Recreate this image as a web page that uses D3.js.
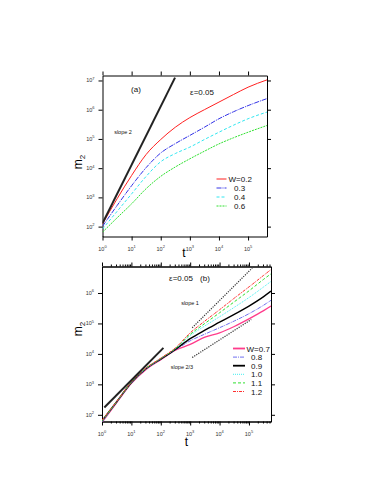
<!DOCTYPE html>
<html>
<head>
<meta charset="utf-8">
<script src="https://cdn.jsdelivr.net/npm/d3@7"></script>
<style>
  body { margin: 0; background: #fff; }
  svg { display: block; font-family: "Liberation Sans", Arial, sans-serif; }
  .tick-label { font-size: 5.5px; fill: #333; }
  .axis-title { font-size: 12px; fill: #000; }
  .note { font-size: 8px; fill: #111; }
  .slope-note { font-size: 5.5px; fill: #111; }
  .legend-text { font-size: 8px; fill: #111; }
  .domain, .tick line { stroke: #000; }
</style>
</head>
<body>
<svg id="chart" width="382" height="494"></svg>
<script>
// ---------- panel (a) data, log10 values

const LOG_T_A = [0, 0.5, 1, 1.5, 2, 2.5, 3, 3.5, 4, 4.5, 5, 5.65];
const LOG_M2_A_W02 = [2.09, 2.95, 3.75, 4.47, 4.98, 5.40, 5.73, 6.0, 6.26, 6.52, 6.77, 7.02];
const LOG_M2_A_W03 = [2.01, 2.72, 3.40, 4.02, 4.52, 4.84, 5.12, 5.40, 5.69, 5.93, 6.14, 6.38];
const LOG_M2_A_W04 = [1.92, 2.52, 3.12, 3.72, 4.22, 4.50, 4.72, 4.98, 5.23, 5.47, 5.69, 5.92];
const LOG_M2_A_W06 = [1.81, 2.30, 2.78, 3.30, 3.72, 4.04, 4.32, 4.58, 4.83, 5.04, 5.23, 5.46];
const LEGEND_A = ["W=0.2", "0.3", "0.4", "0.6"];

const SLOPE2_T = [1, 310];
const SLOPE2_M2 = [130, 1.25e7];

// ---------- panel (b) data

const LOG_T_B = [0, 0.5, 1, 1.5, 2, 2.5, 3, 3.5, 4, 4.5, 5, 5.5, 5.75];
const LOG_M2_B_W07 = [1.75, 2.40, 3.03, 3.49, 3.81, 4.12, 4.31, 4.55, 4.69, 4.90, 5.15, 5.42, 5.57];
const LOG_M2_B_W08 = [1.76, 2.41, 3.04, 3.50, 3.82, 4.13, 4.43, 4.65, 4.86, 5.08, 5.32, 5.60, 5.76];
const LOG_M2_B_W09 = [1.80, 2.43, 3.06, 3.52, 3.83, 4.15, 4.50, 4.78, 5.04, 5.30, 5.57, 5.88, 6.06];
const LOG_M2_B_W10 = [1.78, 2.42, 3.06, 3.52, 3.84, 4.17, 4.60, 4.92, 5.22, 5.53, 5.85, 6.20, 6.38];
const LOG_M2_B_W11 = [1.80, 2.43, 3.07, 3.53, 3.85, 4.18, 4.64, 5.00, 5.35, 5.71, 6.07, 6.45, 6.63];
const LOG_M2_B_W12 = [1.82, 2.44, 3.08, 3.54, 3.86, 4.20, 4.69, 5.08, 5.45, 5.83, 6.20, 6.58, 6.77];
const LEGEND_B = ["W=0.7", "0.8", "0.9", "1.0", "1.1", "1.2"];

const SLOPE1_SOLID_T = [1.2, 123];
const SLOPE1_SOLID_M2 = [174, 15800];
const SLOPE1_DOT_T = [1175, 1.29e5];
const SLOPE1_DOT_M2 = [72400, 6.6e6];
const SLOPE23_DOT_T = [1175, 1.2e5];
const SLOPE23_DOT_M2 = [7600, 1.35e5];

const X_DECADES = [0, 1, 2, 3, 4, 5];
const Y_DECADES_A = [2, 3, 4, 5, 6, 7];
const Y_DECADES_B = [2, 3, 4, 5, 6];

// ----------

function addDecadeLabel(g, x, y, exponent, anchor) {
  let text = g.append("text")
    .attr("class", "tick-label")
    .attr("x", x)
    .attr("y", y)
    .attr("text-anchor", anchor);
  text.append("tspan").text("10");
  text.append("tspan").attr("dy", -2.5).attr("font-size", "4px").text(exponent);
}

function drawPanel(svg, cfg) {
  const x = d3.scaleLog().domain(cfg.xDomain).range([cfg.left, cfg.right]);
  const y = d3.scaleLog().domain(cfg.yDomain).range([cfg.bottom, cfg.top]);
  const g = svg.append("g");

  g.append("clipPath").attr("id", cfg.id + "-clip")
    .append("rect")
    .attr("x", cfg.left).attr("y", cfg.top)
    .attr("width", cfg.right - cfg.left).attr("height", cfg.bottom - cfg.top);

  const xTicks = X_DECADES.map((e) => 10 ** e);
  const yTicks = cfg.yDecades.map((e) => 10 ** e);

  // axes, ticks out on all four sides
  g.append("g").attr("transform", `translate(0,${cfg.bottom})`)
    .call(d3.axisBottom(x).tickValues(xTicks).tickSize(4).tickSizeOuter(0).tickFormat(""));
  g.append("g").attr("transform", `translate(0,${cfg.top})`)
    .call(d3.axisTop(x).tickValues(xTicks).tickSize(4).tickSizeOuter(0).tickFormat(""));
  g.append("g").attr("transform", `translate(${cfg.left},0)`)
    .call(d3.axisLeft(y).tickValues(yTicks).tickSize(4).tickSizeOuter(0).tickFormat(""));
  g.append("g").attr("transform", `translate(${cfg.right},0)`)
    .call(d3.axisRight(y).tickValues(yTicks).tickSize(4).tickSizeOuter(0).tickFormat(""));

  if (cfg.minorTicks) {
    let minor = [];
    X_DECADES.forEach((e) => {
      for (let k = 2; k <= 9; k++) minor.push(k * 10 ** e);
    });
    minor = minor.filter((v) => v <= cfg.xDomain[1]);
    g.append("g").attr("transform", `translate(0,${cfg.bottom})`)
      .call(d3.axisBottom(x).tickValues(minor).tickSize(2).tickSizeOuter(0).tickFormat(""));
    g.append("g").attr("transform", `translate(0,${cfg.top})`)
      .call(d3.axisTop(x).tickValues(minor).tickSize(2).tickSizeOuter(0).tickFormat(""));
  }

  X_DECADES.forEach((e) => addDecadeLabel(g, x(10 ** e), cfg.bottom + 14, e, "middle"));
  cfg.yDecades.forEach((e) => addDecadeLabel(g, cfg.left - 8, y(10 ** e) + 2, e, "end"));

  // axis titles
  g.append("text").attr("class", "axis-title")
    .attr("x", cfg.tLabel[0]).attr("y", cfg.tLabel[1])
    .attr("text-anchor", "middle").text("t");
  let m2 = g.append("text").attr("class", "axis-title")
    .attr("transform", `translate(${cfg.mLabel[0]},${cfg.mLabel[1]}) rotate(-90)`)
    .attr("text-anchor", "middle");
  m2.append("tspan").text("m");
  m2.append("tspan").attr("dy", 2.5).attr("font-size", "8px").text("2");

  const plot = g.append("g").attr("clip-path", `url(#${cfg.id}-clip)`);

  const line = d3.line()
    .x((d) => x(10 ** d[0]))
    .y((d) => y(10 ** d[1]))
    .curve(d3.curveMonotoneX);

  cfg.series.forEach((s) => {
    plot.append("path")
      .datum(cfg.logT.map((t, i) => [t, s.values[i]]))
      .attr("d", line)
      .attr("fill", "none")
      .attr("stroke", s.color)
      .attr("stroke-width", s.width)
      .attr("stroke-dasharray", s.dash);
  });

  const straight = d3.line().x((d) => x(d[0])).y((d) => y(d[1]));
  cfg.guides.forEach((s) => {
    plot.append("path")
      .datum(s.t.map((t, i) => [t, s.m2[i]]))
      .attr("d", straight)
      .attr("fill", "none")
      .attr("stroke", s.color)
      .attr("stroke-width", s.width)
      .attr("stroke-dasharray", s.dash);
  });

  cfg.notes.forEach((n) => {
    g.append("text").attr("class", n.cls)
      .attr("x", n.x).attr("y", n.y)
      .attr("text-anchor", "middle").text(n.text);
  });

  // legend
  cfg.series.forEach((s, i) => {
    const ly = cfg.legend.y + i * cfg.legend.step;
    g.append("line")
      .attr("x1", cfg.legend.x).attr("x2", cfg.legend.x + cfg.legend.len)
      .attr("y1", ly).attr("y2", ly)
      .attr("stroke", s.color)
      .attr("stroke-width", s.legendWidth || s.width)
      .attr("stroke-dasharray", s.dash);
    g.append("text").attr("class", "legend-text")
      .attr("x", i === 0 ? cfg.legend.textX : cfg.legend.textX2)
      .attr("y", ly + 3)
      .text(cfg.legendLabels[i]);
  });
}

const svg = d3.select("#chart");

drawPanel(svg, {
  id: "pa",
  left: 102.5, right: 267, top: 75.5, bottom: 236.5,
  xDomain: [1, 10 ** 5.65],
  yDomain: [10 ** 1.662, 10 ** 7.17],
  yDecades: Y_DECADES_A,
  minorTicks: false,
  tLabel: [184, 257],
  mLabel: [82, 162],
  logT: LOG_T_A,
  series: [
    { values: LOG_M2_A_W02, color: "#ff2020", width: 1, dash: null },
    { values: LOG_M2_A_W03, color: "#3434e6", width: 1, dash: "5,1,1,1" },
    { values: LOG_M2_A_W04, color: "#30e6f0", width: 1, dash: "3,2" },
    { values: LOG_M2_A_W06, color: "#30e030", width: 1, dash: "2,1" }
  ],
  guides: [
    { t: SLOPE2_T, m2: SLOPE2_M2, color: "#222", width: 2, dash: null }
  ],
  notes: [
    { text: "(a)", x: 136, y: 92, cls: "note" },
    { text: "ε=0.05", x: 202, y: 95, cls: "note" },
    { text: "slope 2", x: 123, y: 134, cls: "slope-note" }
  ],
  legend: { x: 216.5, len: 10, y: 179, step: 9, textX: 228.5, textX2: 234 },
  legendLabels: LEGEND_A
});

drawPanel(svg, {
  id: "pb",
  left: 102, right: 271, top: 266.5, bottom: 421.5,
  xDomain: [1, 10 ** 5.75],
  yDomain: [10 ** 1.78, 10 ** 6.87],
  yDecades: Y_DECADES_B,
  minorTicks: true,
  tLabel: [186.5, 446],
  mLabel: [82, 329],
  logT: LOG_T_B,
  series: [
    { values: LOG_M2_B_W07, color: "#ff3c8c", width: 1.3, legendWidth: 1.8, dash: null },
    { values: LOG_M2_B_W08, color: "#7070f0", width: 1, dash: "4,1,1,1" },
    { values: LOG_M2_B_W09, color: "#000", width: 1.4, legendWidth: 1.8, dash: null },
    { values: LOG_M2_B_W10, color: "#40eef0", width: 1, dash: "1,1" },
    { values: LOG_M2_B_W11, color: "#30e030", width: 1, dash: "3,2" },
    { values: LOG_M2_B_W12, color: "#ff3030", width: 1, dash: "3,1,1,1" }
  ],
  guides: [
    { t: SLOPE1_SOLID_T, m2: SLOPE1_SOLID_M2, color: "#222", width: 2, dash: null },
    { t: SLOPE1_DOT_T, m2: SLOPE1_DOT_M2, color: "#333", width: 1.2, dash: "1.2,1.2" },
    { t: SLOPE23_DOT_T, m2: SLOPE23_DOT_M2, color: "#333", width: 1.2, dash: "1.2,1.2" }
  ],
  notes: [
    { text: "ε=0.05", x: 181, y: 281, cls: "note" },
    { text: "(b)", x: 205, y: 281, cls: "note" },
    { text: "slope 1", x: 190, y: 305, cls: "slope-note" },
    { text: "slope 2/3", x: 182, y: 369, cls: "slope-note" }
  ],
  legend: { x: 233, len: 12, y: 348.5, step: 8.6, textX: 246.5, textX2: 251 },
  legendLabels: LEGEND_B
});
</script>
</body>
</html>
